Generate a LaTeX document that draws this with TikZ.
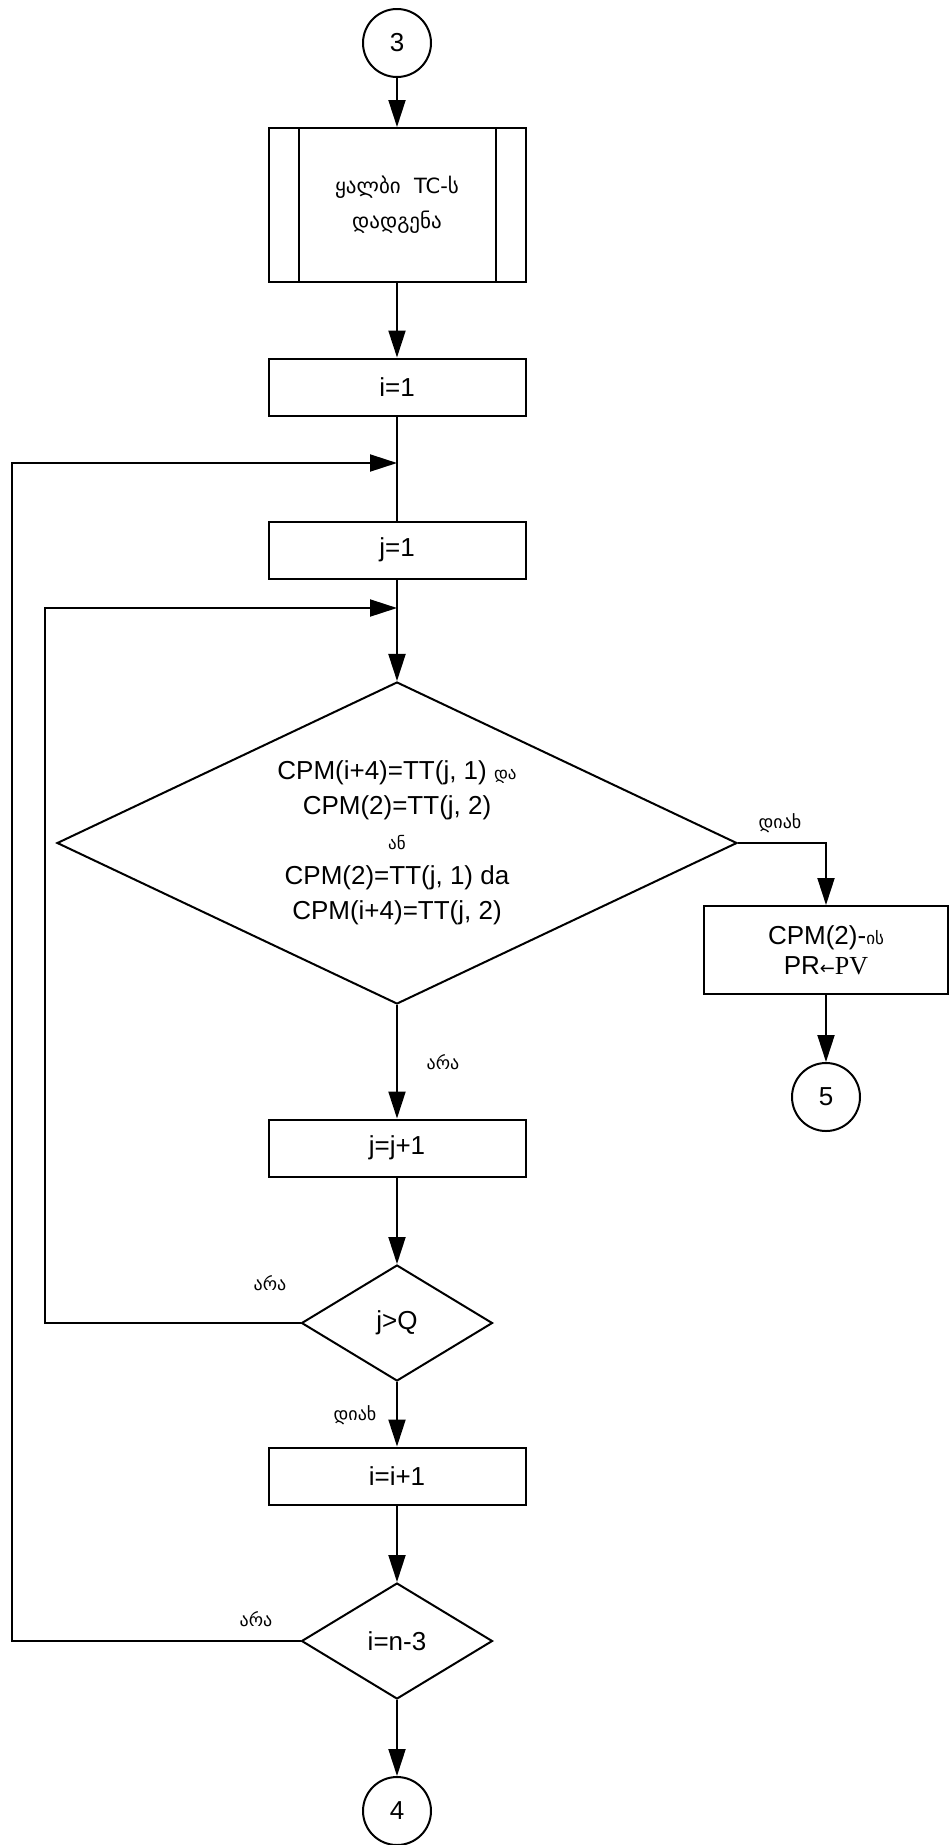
\documentclass[tikz,border=0pt]{standalone}
\usepackage{fontspec}
\setmainfont{Liberation Sans}
\newfontfamily\geo{DejaVu Sans}
\newfontfamily\pvfont{Liberation Serif}
\usetikzlibrary{shapes.geometric,arrows.meta}

\tikzset{
	block/.style={draw,line width=2pt,minimum width=257pt,minimum height=57pt,inner sep=0pt,font=\fontsize{26}{30}\selectfont},
	decision/.style={draw,diamond,line width=2pt,inner sep=0pt,aspect=2,font=\fontsize{26}{35}\selectfont},
	joint/.style={draw,circle,line width=2pt,minimum size=68pt,inner sep=0pt,font=\fontsize{26}{30}\selectfont},
	flow/.style={line width=2pt,-{Triangle[length=27pt,width=17pt]}},
	answer/.style={font=\geo\fontsize{18}{22}\selectfont}
}

\begin{document}
\begin{tikzpicture}[x=1pt,y=-1pt]
\useasboundingbox (0,0) rectangle (950,1845);

%Start
\node[joint] (c3) at (397,43) {3};

%Subroutine
\node[block,minimum height=154pt,align=center,font=\geo\fontsize{21}{35}\selectfont] (sub) at (397,205) {ყალბი\ \ TC-ს\\დადგენა};
\draw[line width=2pt] ([xshift=31pt]sub.north west) -- ([xshift=31pt]sub.south west);
\draw[line width=2pt] ([xshift=-31pt]sub.north east) -- ([xshift=-31pt]sub.south east);

%Counters
\node[block] (i1) at (397,387) {i=1};
\coordinate (loopi) at (397,463);
\node[block] (j1) at (397,550) {j=1};
\coordinate (loopj) at (397,608);

%Main test
\node[decision,minimum width=680pt,minimum height=322pt,align=center] (cond) at (397,843)
	{CPM(i+4)=TT(j, 1) {\geo\fontsize{17}{35}\selectfont და}\\CPM(2)=TT(j, 2)\\{\geo\fontsize{17}{35}\selectfont ან}\\CPM(2)=TT(j, 1) da\\CPM(i+4)=TT(j, 2)};

%Right branch
\coordinate (turn) at (826,843);
\node[block,minimum width=244pt,minimum height=88pt,align=center] (pr) at (826,950) {CPM(2)-{\geo\fontsize{17}{30}\selectfont ის}\\PR{\geo\fontsize{18}{30}\selectfont ←}{\pvfont PV}};
\node[joint] (c5) at (826,1097) {5};

%Inner loop
\node[block] (jj) at (397,1148) {j=j+1};
\node[decision,minimum width=191pt,minimum height=116pt] (jq) at (397,1323) {j>Q};
\coordinate (jcorner) at (45,608);

%Outer loop
\node[block] (ii) at (397,1476) {i=i+1};
\node[decision,minimum width=191pt,minimum height=116pt] (in3) at (397,1641) {i=n-3};
\coordinate (icorner) at (12,463);

%End
\node[joint] (c4) at (397,1811) {4};

%Connectors
\draw[flow] (c3) -- (sub);
\draw[flow] (sub) -- (i1);
\draw[line width=2pt] (i1) -- (j1);
\draw[flow] (j1) -- (cond);
\draw[flow] (cond.east) -- (turn) -- (pr);
\draw[flow] (pr) -- (c5);
\draw[flow] (cond) -- (jj);
\draw[flow] (jj) -- (jq);
\draw[flow] (jq.west) -| (jcorner) -- (loopj);
\draw[flow] (jq) -- (ii);
\draw[flow] (ii) -- (in3);
\draw[flow] (in3.west) -| (icorner) -- (loopi);
\draw[flow] (in3) -- (c4);

%Answers
\node[answer] (yes1) at (780,823) {დიახ};
\node[answer] (no1) at (443,1062) {არა};
\node[answer] (no2) at (270,1283) {არა};
\node[answer] (yes2) at (355,1415) {დიახ};
\node[answer] (no3) at (256,1619) {არა};

\end{tikzpicture}
\end{document}
